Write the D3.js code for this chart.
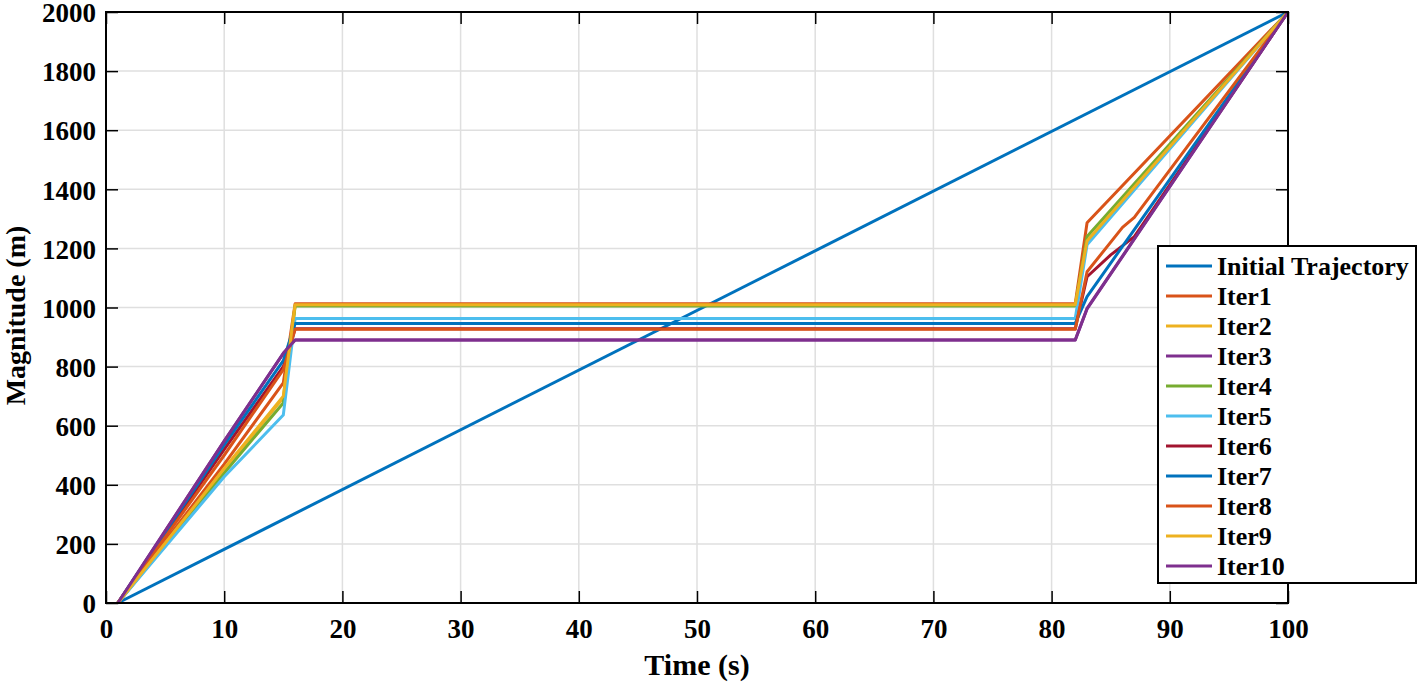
<!DOCTYPE html>
<html>
<head>
<meta charset="utf-8">
<script src="https://cdn.jsdelivr.net/npm/d3@7"></script>
<style>
  body { margin: 0; background: #fff; }
  svg { display: block; }
  .tick text { font-family: 'Liberation Serif', 'Times New Roman', serif; font-weight: bold; }
</style>
</head>
<body>
<div id="chart"></div>
<script>
// series names and colours (MATLAB default order)
const seriesNames = ['Initial Trajectory', 'Iter1', 'Iter2', 'Iter3', 'Iter4', 'Iter5',
  'Iter6', 'Iter7', 'Iter8', 'Iter9', 'Iter10'];
const seriesColors = ['#0072BD', '#D95319', '#EDB120', '#7E2F8E', '#77AC30', '#4DBEEE',
  '#A2142F', '#0072BD', '#D95319', '#EDB120', '#7E2F8E'];

// [time (s), magnitude (m)]
const initialTrajectory = [[1, 0], [100, 2000]];
const iter1 = [[1, 0], [10, 470], [15, 745], [16, 1013], [82, 1013], [83, 1287], [100, 2000]];
const iter2 = [[1, 0], [10, 450], [15, 694], [16, 1007], [82, 1007], [83, 1223], [100, 2000]];
const iter3 = [[1, 0], [10, 548], [15, 845], [16, 890], [82, 890], [83, 997], [100, 2000]];
const iter4 = [[1, 0], [10, 440], [15, 677], [16, 1005], [82, 1005], [83, 1240], [100, 2000]];
const iter5 = [[1, 0], [10, 427], [15, 636], [16, 963], [82, 963], [83, 1212], [100, 2000]];
const iter6 = [[1, 0], [10, 520], [15, 800], [16, 928], [82, 928], [83, 1104], [85, 1178], [87, 1240], [100, 2000]];
const iter7 = [[1, 0], [10, 535], [15, 820], [16, 946], [82, 946], [83, 1037], [100, 2000]];
const iter8 = [[1, 0], [10, 500], [15, 790], [16, 926], [82, 926], [83, 1121], [86, 1271], [87, 1305], [100, 2000]];
const iter9 = [[1, 0], [10, 455], [15, 700], [16, 1009], [82, 1009], [83, 1225], [100, 2000]];
const iter10 = [[1, 0], [10, 548], [15, 845], [16, 890], [82, 890], [83, 995], [100, 2000]];

const xTicks = [0, 10, 20, 30, 40, 50, 60, 70, 80, 90, 100];
const yTicks = [0, 200, 400, 600, 800, 1000, 1200, 1400, 1600, 1800, 2000];

const allSeries = [initialTrajectory, iter1, iter2, iter3, iter4, iter5,
  iter6, iter7, iter8, iter9, iter10];

const W = 1422, H = 683;
const margin = { top: 12, right: 134, bottom: 80, left: 106 };
const width = W - margin.left - margin.right;
const height = H - margin.top - margin.bottom;
const font = "'Liberation Serif', 'Times New Roman', serif";

const svg = d3.select('#chart')
  .append('svg')
    .attr('width', W)
    .attr('height', H)
  .append('g')
    .attr('transform', `translate(${margin.left},${margin.top})`);

const x = d3.scaleLinear().domain([0, 100]).range([0, width]);
const y = d3.scaleLinear().domain([0, 2000]).range([height, 0]);

// grid
svg.selectAll('.vgrid')
  .data(xTicks.slice(1, -1))
  .enter()
  .append('line')
  .attr('x1', (d) => x(d)).attr('x2', (d) => x(d))
  .attr('y1', 0).attr('y2', height)
  .attr('stroke', '#dfdfdf').attr('stroke-width', 1.5);
svg.selectAll('.hgrid')
  .data(yTicks.slice(1, -1))
  .enter()
  .append('line')
  .attr('x1', 0).attr('x2', width)
  .attr('y1', (d) => y(d)).attr('y2', (d) => y(d))
  .attr('stroke', '#dfdfdf').attr('stroke-width', 1.5);

// lines
const line = d3.line().x((d) => x(d[0])).y((d) => y(d[1]));
svg.selectAll('.series')
  .data(allSeries)
  .enter()
  .append('path')
  .attr('d', line)
  .attr('fill', 'none')
  .attr('stroke', (d, i) => seriesColors[i])
  .attr('stroke-width', 3)
  .attr('stroke-linejoin', 'round');

// axes (box on, ticks inside)
const tickLen = 12;
const styleAxis = (g) => {
  g.select('.domain').remove();
  g.selectAll('.tick line').attr('stroke', '#000').attr('stroke-width', 1.5);
  g.selectAll('.tick text').attr('font-size', 27).attr('fill', '#000');
};
svg.append('g')
  .attr('transform', `translate(0,${height})`)
  .call(d3.axisBottom(x).tickValues(xTicks).tickSize(-tickLen).tickPadding(16))
  .call(styleAxis);
svg.append('g')
  .call(d3.axisLeft(y).tickValues(yTicks).tickFormat(d3.format('d')).tickSize(-tickLen).tickPadding(10))
  .call(styleAxis)
  .selectAll('.tick text').attr('dy', '0.36em');
svg.append('g')
  .call(d3.axisTop(x).tickValues(xTicks).tickSize(-tickLen).tickFormat(''))
  .call(styleAxis);
svg.append('g')
  .attr('transform', `translate(${width},0)`)
  .call(d3.axisRight(y).tickValues(yTicks).tickSize(-tickLen).tickFormat(''))
  .call(styleAxis);

svg.append('rect')
  .attr('width', width).attr('height', height)
  .attr('fill', 'none').attr('stroke', '#000').attr('stroke-width', 2);

// axis labels
svg.append('text')
  .attr('x', width / 2).attr('y', height + 72)
  .attr('text-anchor', 'middle')
  .attr('font-family', font).attr('font-weight', 'bold').attr('font-size', 30)
  .text('Time (s)');
svg.append('text')
  .attr('transform', `translate(${-81},${height / 2 + 8}) rotate(-90)`)
  .attr('text-anchor', 'middle')
  .attr('font-family', font).attr('font-weight', 'bold').attr('font-size', 28)
  .text('Magnitude (m)');

// legend
const legend = svg.append('g')
  .attr('transform', `translate(${1158 - margin.left},${246 - margin.top})`);
legend.append('rect')
  .attr('width', 258).attr('height', 337)
  .attr('fill', '#fff').attr('stroke', '#000').attr('stroke-width', 2);
const item = legend.selectAll('.item')
  .data(seriesNames)
  .enter()
  .append('g')
  .attr('transform', (d, i) => `translate(0,${20 + i * 30})`);
item.append('line')
  .attr('x1', 8).attr('x2', 54)
  .attr('stroke', (d, i) => seriesColors[i])
  .attr('stroke-width', 3);
item.append('text')
  .attr('x', 59).attr('dy', '0.34em')
  .attr('font-family', font).attr('font-weight', 'bold').attr('font-size', 26)
  .text((d) => d);
</script>
</body>
</html>
